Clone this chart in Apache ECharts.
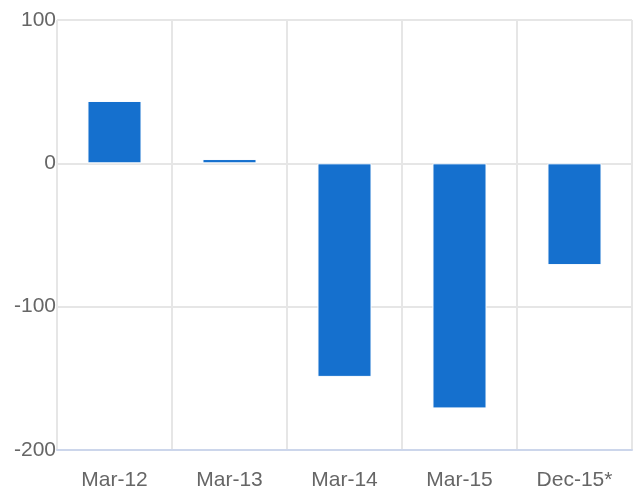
<!DOCTYPE html>
<html>
<head>
<meta charset="utf-8">
<script src="https://cdn.jsdelivr.net/npm/echarts@6/dist/echarts.min.js"></script>
<style>
  html, body { margin: 0; padding: 0; background: #fff; }
  #main { width: 642px; height: 493px; }
</style>
</head>
<body>
<div id="main"></div>
<script>
var categories = ['Mar-12', 'Mar-13', 'Mar-14', 'Mar-15', 'Dec-15*'];
var values = [43.5, 3, -149, -171, -71];
var yTicks = [-200, -100, 0, 100];

var myChart = echarts.init(document.getElementById('main'));

var option = {
    animation: false,
    grid: { left: 57, right: 10, top: 20, bottom: 43 },
    xAxis: {
        type: 'category',
        data: categories,
        axisLine: { show: true, onZero: false, lineStyle: { color: '#ccd6eb', width: 2 } },
        axisTick: { show: false },
        axisLabel: { color: '#666', fontSize: 21, fontFamily: 'Liberation Sans', margin: 20 },
        splitLine: { show: true, lineStyle: { color: '#e6e6e6', width: 2 } }
    },
    yAxis: {
        type: 'value',
        min: yTicks[0],
        max: yTicks[yTicks.length - 1],
        interval: 100,
        axisLine: { show: false },
        axisTick: { show: false },
        axisLabel: { color: '#666', fontSize: 21, fontFamily: 'Liberation Sans', margin: 1 },
        splitLine: { show: true, lineStyle: { color: '#e6e6e6', width: 2 } }
    },
    series: [{
        type: 'bar',
        data: values,
        barWidth: '47%',
        itemStyle: { color: '#1570ce', borderColor: '#fff', borderWidth: 1 }
    }]
};

myChart.setOption(option);
</script>
</body>
</html>
